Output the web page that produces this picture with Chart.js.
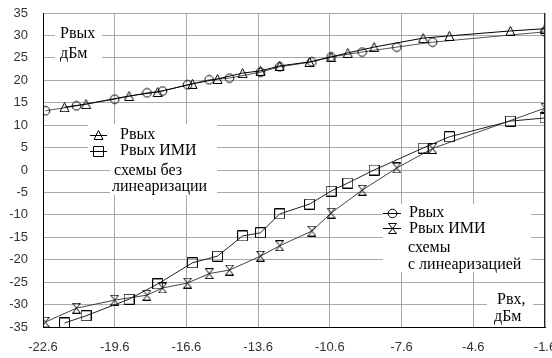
<!DOCTYPE html>
<html>
<head>
<meta charset="utf-8">
<title>Рвых / Рвых ИМИ</title>
<script src="https://cdn.jsdelivr.net/npm/chart.js@4.4.0/dist/chart.umd.min.js"></script>
<style>body{margin:0;background:#fff}</style>
</head>
<body>
<canvas id="chart" width="552" height="358"></canvas>
<script>
// schemes without linearization (triangles / squares)
var xNoLin = [-21.7, -20.8, -19.0, -17.8, -16.35, -15.3, -14.25, -13.5, -12.7, -11.45, -10.55, -9.85, -8.75, -6.7, -5.6, -3.05, -1.6];
var poutNoLin = [14.0, 14.7, 16.5, 17.4, 19.2, 20.3, 21.6, 22.1, 23.2, 24.1, 25.2, 26.1, 27.4, 29.4, 29.9, 31.0, 31.5];
var imdNoLin = [-34.1, -32.5, -28.8, -25.4, -20.7, -19.2, -14.7, -14.0, -9.8, -7.6, -4.7, -2.9, 0.0, 4.9, 7.4, 10.9, 11.6];
// schemes with linearization (circles / hourglass)
var xLin = [-22.5, -21.2, -19.6, -18.25, -17.6, -16.55, -15.65, -14.8, -13.5, -12.7, -11.35, -10.55, -9.25, -7.8, -6.3, -1.6];
var poutLin = [13.2, 14.3, 15.8, 17.2, 17.6, 19.0, 20.1, 20.5, 21.8, 23.0, 24.1, 25.2, 26.3, 27.4, 28.5, 30.8];
var imdLin = [-33.9, -30.8, -29.0, -27.9, -26.3, -25.2, -23.1, -22.3, -19.2, -16.9, -13.6, -9.6, -4.5, 0.45, 4.8, 13.8];
// axes
var xTicks = [-22.6, -19.6, -16.6, -13.6, -10.6, -7.6, -4.6, -1.6];
var yMin = -35, yMax = 35, yStep = 5;

function marker(w, h, draw) {
    var c = document.createElement('canvas');
    c.width = w; c.height = h;
    var g = c.getContext('2d');
    g.strokeStyle = '#000';
    g.lineWidth = 1;
    g.beginPath();
    draw(g);
    g.stroke();
    return c;
}
var mCircle = marker(11, 11, function(g){ g.arc(5.5, 5.5, 4.3, 0, Math.PI * 2); });
var mTri = marker(11, 10, function(g){ g.moveTo(5.5, 0.5); g.lineTo(10, 9.5); g.lineTo(1, 9.5); g.closePath(); });
var mSquare = marker(11, 11, function(g){ g.rect(0.5, 0.5, 10, 10); });
var mGlass = marker(9, 11, function(g){ g.moveTo(0.5, 0.5); g.lineTo(8.5, 0.5); g.lineTo(0.5, 10.5); g.lineTo(8.5, 10.5); g.closePath(); });

function pts(xs, ys) {
    return xs.map(function(x, i){ return {x: x, y: ys[i]}; });
}
function series(data, color, style) {
    return {data: data, borderColor: color, borderWidth: 1, showLine: true, fill: false,
        tension: 0, pointStyle: style, pointRadius: 5, pointHoverRadius: 5};
}

var serif = '16px "Liberation Serif", "Times New Roman", serif';

var notes = {
    id: 'notes',
    afterDraw: function(chart) {
        var ctx = chart.ctx;
        ctx.save();
        // right frame line
        var a = chart.chartArea;
        ctx.strokeStyle = '#222';
        ctx.lineWidth = 1;
        ctx.beginPath();
        ctx.moveTo(Math.round(a.right) - 0.5, a.top);
        ctx.lineTo(Math.round(a.right) - 0.5, a.bottom);
        ctx.stroke();
        // white boxes under the texts
        ctx.fillStyle = '#fff';
        ctx.fillRect(55, 24, 47, 40);
        ctx.fillRect(88, 124, 129, 36);
        ctx.fillRect(110, 160, 107, 35);
        ctx.fillRect(383, 204, 148, 68);
        ctx.fillRect(487, 291, 46, 35);
        // legend symbols
        ctx.strokeStyle = '#000';
        ctx.beginPath();
        ctx.moveTo(90, 135.5); ctx.lineTo(107, 135.5);
        ctx.moveTo(90, 151.5); ctx.lineTo(107, 151.5);
        ctx.moveTo(383, 213.5); ctx.lineTo(401, 213.5);
        ctx.moveTo(383, 228.5); ctx.lineTo(401, 228.5);
        ctx.stroke();
        ctx.drawImage(mTri, 93, 130);
        ctx.drawImage(mSquare, 93, 146);
        ctx.drawImage(mCircle, 387, 208);
        ctx.drawImage(mGlass, 388, 223);
        // texts
        ctx.fillStyle = '#000';
        ctx.font = serif;
        ctx.textBaseline = 'middle';
        ctx.textAlign = 'left';
        ctx.fillText('Рвых', 60, 34);
        ctx.fillText('дБм', 60, 54);
        ctx.fillText('Рвых', 120, 135);
        ctx.fillText('Рвых ИМИ', 120, 151);
        ctx.fillText('схемы без', 114, 171);
        ctx.fillText('линеаризации', 112, 187);
        ctx.fillText('Рвых', 409, 213);
        ctx.fillText('Рвых ИМИ', 409, 229);
        ctx.fillText('схемы', 408, 248);
        ctx.fillText('с линеаризацией', 408, 265);
        ctx.fillText('Рвх,', 497, 300);
        ctx.fillText('дБм', 494, 317);
        ctx.restore();
    }
};

var ctx = document.getElementById('chart').getContext('2d');
var myChart = new Chart(ctx, {
    type: 'scatter',
    data: {
        datasets: [
            series(pts(xNoLin, poutNoLin), '#000', mTri),
            series(pts(xLin, poutLin), '#555', mCircle),
            series(pts(xNoLin, imdNoLin), '#222', mSquare),
            series(pts(xLin, imdLin), '#444', mGlass)
        ]
    },
    options: {
        responsive: false,
        animation: false,
        layout: {padding: {top: 13, right: 7, left: 0, bottom: 0}},
        plugins: {legend: {display: false}, tooltip: {enabled: false}},
        scales: {
            x: {
                type: 'linear',
                min: xTicks[0],
                max: xTicks[xTicks.length - 1],
                afterBuildTicks: function(scale) {
                    scale.ticks = xTicks.map(function(v){ return {value: v}; });
                },
                afterFit: function(scale) {
                    scale.height = 31;
                    scale.paddingLeft = 0;
                    scale.paddingRight = 0;
                },
                grid: {color: '#a8a8a8', drawTicks: false},
                border: {color: '#000'},
                ticks: {
                    padding: 13,
                    autoSkip: false,
                    maxRotation: 0,
                    color: '#333',
                    font: {family: '"Liberation Sans", Arial, sans-serif', size: 13},
                    callback: function(v){ return Number(v).toFixed(1); }
                }
            },
            y: {
                min: yMin,
                max: yMax,
                afterFit: function(scale) {
                    scale.width = 43;
                    scale.paddingTop = 0;
                    scale.paddingBottom = 0;
                },
                grid: {color: '#a8a8a8', drawTicks: false},
                border: {color: '#000'},
                ticks: {
                    stepSize: yStep,
                    padding: 15,
                    color: '#333',
                    font: {family: '"Liberation Sans", Arial, sans-serif', size: 13}
                }
            }
        }
    },
    plugins: [notes]
});
</script>
</body>
</html>
